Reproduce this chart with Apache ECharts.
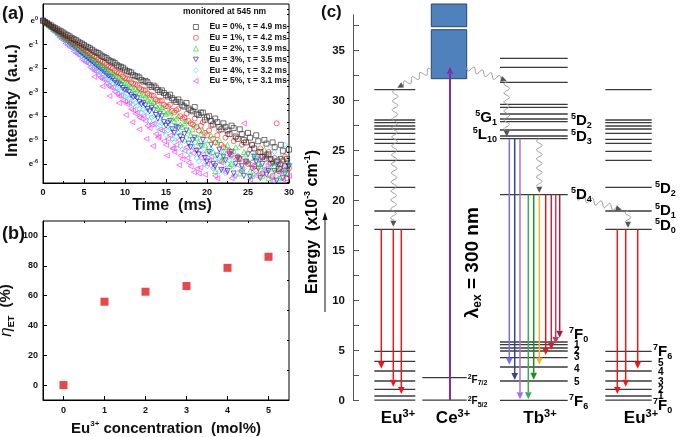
<!DOCTYPE html>
<html><head><meta charset="utf-8">
<script src="https://cdn.jsdelivr.net/npm/echarts@6/dist/echarts.min.js"></script>
<style>html,body{margin:0;padding:0;background:#fff}#c{width:685px;height:437px}</style>
</head><body><div id="c"></div><script>
const FONT = '"Liberation Sans", Arial, sans-serif';

// ---------- Panel (a): decay curves, ln(I) vs time (ms) ----------
const decayTime = [0,0.5,1,1.5,2,2.5,3,3.5,4,4.5,5,5.5,6,6.5,7,7.5,8,8.5,9,9.5,10,10.5,11,11.5,12,12.5,13,13.5,14,14.5,15,15.5,16,16.5,17,17.5,18,18.5,19,19.5,20,20.5,21,21.5,22,22.5,23,23.5,24,24.5,25,25.5,26,26.5,27,27.5,28,28.5,29,29.5,30];
const decayTimeB = [0.25,0.75,1.25,1.75,2.25,2.75,3.25,3.75,4.25,4.75,5.25,5.75,6.25,6.75,7.25,7.75,8.25,8.75,9.25,9.75,10.25,10.75,11.25,11.75,12.25,12.75,13.25,13.75,14.25,14.75,15.25,15.75,16.25,16.75,17.25,17.75,18.25,18.75,19.25,19.75,20.25,20.75,21.25,21.75,22.25,22.75,23.25,23.75,24.25,24.75,25.25,25.75,26.25,26.75,27.25,27.75,28.25,28.75,29.25,29.75];
const decayEu0 = [0,-0.10,-0.20,-0.31,-0.41,-0.50,-0.61,-0.72,-0.81,-0.92,-1.02,-1.12,-1.22,-1.33,-1.42,-1.53,-1.64,-1.72,-1.85,-1.93,-2.05,-2.13,-2.27,-2.33,-2.48,-2.52,-2.70,-2.72,-2.90,-2.92,-3.12,-3.10,-3.32,-3.30,-3.55,-3.45,-3.75,-3.62,-3.95,-3.85,-4.05,-4.20,-4.10,-4.45,-4.30,-4.60,-4.40,-4.85,-4.55,-5.00,-4.70,-5.20,-4.80,-5.50,-5.00,-5.60,-5.10,-5.90,-5.20,-6.10,-5.40];
const decayEu0B = [-0.05,-0.16,-0.26,-0.36,-0.45,-0.57,-0.66,-0.77,-0.87,-0.96,-1.08,-1.16,-1.29,-1.36,-1.49,-1.57,-1.70,-1.77,-1.91,-1.97,-2.12,-2.17,-2.33,-2.38,-2.55,-2.58,-2.78,-2.80,-2.98,-3.03,-3.18,-3.25,-3.40,-3.42,-3.60,-3.68,-3.80,-3.90,-3.85,-4.15,-4.00,-4.35,-4.25,-4.55,-4.45,-4.75,-4.50,-4.95,-4.75,-5.10,-4.90,-5.35,-5.05,-5.70,-5.15,-5.80,-5.30,-6.20,-5.45,-5.80];
const decayEu1 = [0,-0.12,-0.24,-0.36,-0.47,-0.60,-0.72,-0.82,-0.96,-1.06,-1.19,-1.30,-1.44,-1.53,-1.68,-1.77,-1.92,-2.00,-2.16,-2.23,-2.40,-2.46,-2.64,-2.70,-2.88,-2.92,-3.12,-3.15,-3.36,-3.35,-3.58,-3.52,-3.85,-3.70,-4.10,-3.90,-4.30,-4.10,-4.60,-4.25,-4.80,-4.40,-5.10,-4.60,-5.30,-4.75,-5.60,-4.90,-5.80,-5.10,-6.00,-5.20,-6.30,-5.35,-5.80,-5.50,-6.50,-4.30,-6.00,-5.70,-6.20];
const decayEu1B = [-0.06,-0.18,-0.30,-0.42,-0.54,-0.66,-0.77,-0.90,-1.01,-1.14,-1.25,-1.38,-1.48,-1.62,-1.72,-1.86,-1.96,-2.10,-2.19,-2.34,-2.42,-2.58,-2.65,-2.82,-2.90,-3.05,-3.12,-3.30,-3.35,-3.52,-3.60,-3.78,-3.75,-4.00,-4.05,-4.20,-4.35,-4.45,-4.40,-4.70,-4.60,-4.95,-4.80,-5.20,-4.90,-5.45,-5.05,-5.70,-5.20,-5.90,-5.40,-6.10,-5.50,-6.40,-5.60,-5.95,-5.75,-6.30,-5.85,-6.60];
const decayEu2 = [0,-0.13,-0.26,-0.38,-0.51,-0.65,-0.77,-0.90,-1.03,-1.15,-1.28,-1.41,-1.54,-1.66,-1.80,-1.92,-2.05,-2.18,-2.31,-2.42,-2.58,-2.66,-2.85,-2.92,-3.10,-3.18,-3.38,-3.40,-3.65,-3.62,-3.90,-3.80,-4.20,-4.00,-4.45,-4.20,-4.80,-4.35,-5.10,-4.60,-5.40,-4.80,-6.30,-5.00,-5.70,-5.20,-6.00,-5.30,-6.40,-5.50,-5.90,-6.50,-5.60,-6.10,-5.40,-6.60,-5.90,-6.20,-5.70,-6.40,-6.00];
const decayEu2B = [-0.06,-0.19,-0.32,-0.45,-0.58,-0.70,-0.83,-0.96,-1.09,-1.22,-1.34,-1.48,-1.60,-1.74,-1.86,-2.00,-2.12,-2.26,-2.36,-2.52,-2.62,-2.78,-2.86,-3.04,-3.12,-3.30,-3.36,-3.55,-3.60,-3.80,-3.85,-4.05,-4.10,-4.35,-4.30,-4.60,-4.55,-4.90,-4.75,-5.20,-5.00,-5.50,-5.10,-5.85,-5.30,-6.10,-5.45,-5.80,-6.20,-5.60,-6.30,-5.75,-6.00,-6.50,-5.65,-6.20,-5.95,-6.60,-5.80,-6.25];
const decayEu3 = [0,-0.14,-0.29,-0.43,-0.57,-0.72,-0.86,-1.00,-1.14,-1.29,-1.43,-1.57,-1.71,-1.86,-2.00,-2.14,-2.30,-2.42,-2.60,-2.70,-2.90,-2.98,-3.20,-3.25,-3.50,-3.55,-3.80,-3.75,-4.10,-4.00,-4.40,-4.20,-4.70,-4.50,-5.00,-4.60,-5.30,-4.90,-5.60,-5.00,-5.90,-5.20,-6.10,-5.40,-5.70,-6.30,-5.50,-6.00,-5.80,-6.50,-5.60,-6.20,-5.90,-6.60,-5.70,-6.30,-6.00,-6.70,-5.80,-6.40,-6.10];
const decayEu3B = [-0.07,-0.21,-0.36,-0.50,-0.64,-0.79,-0.93,-1.07,-1.22,-1.36,-1.50,-1.64,-1.79,-1.93,-2.07,-2.22,-2.36,-2.52,-2.64,-2.82,-2.92,-3.12,-3.18,-3.40,-3.45,-3.70,-3.65,-3.95,-3.90,-4.25,-4.30,-4.55,-4.45,-4.85,-4.75,-5.15,-5.00,-5.45,-5.25,-5.75,-5.50,-6.00,-5.65,-6.25,-5.85,-5.60,-6.40,-5.75,-6.10,-5.90,-6.55,-5.70,-6.20,-6.00,-6.45,-5.85,-6.30,-6.05,-6.60,-5.95];
const decayEu4 = [0,-0.16,-0.31,-0.47,-0.63,-0.78,-0.94,-1.10,-1.25,-1.41,-1.57,-1.72,-1.89,-2.03,-2.20,-2.34,-2.52,-2.64,-2.85,-2.95,-3.18,-3.25,-3.50,-3.55,-3.85,-3.80,-4.20,-4.00,-4.50,-4.30,-4.80,-4.50,-5.10,-4.70,-5.40,-4.90,-5.60,-5.10,-5.90,-5.20,-6.10,-5.40,-5.80,-6.30,-5.50,-6.00,-5.70,-6.50,-5.30,-6.20,-5.90,-5.50,-6.40,-5.80,-6.10,-5.60,-6.60,-5.90,-6.20,-5.20,-6.00];
const decayEu4B = [-0.08,-0.23,-0.39,-0.55,-0.70,-0.86,-1.02,-1.17,-1.33,-1.49,-1.64,-1.80,-1.96,-2.11,-2.27,-2.42,-2.58,-2.75,-2.90,-3.08,-3.20,-3.40,-3.45,-3.70,-3.72,-4.00,-4.05,-4.35,-4.25,-4.65,-4.60,-4.95,-4.85,-5.25,-5.05,-5.50,-5.25,-5.75,-5.45,-6.00,-5.60,-6.20,-5.75,-5.50,-6.40,-5.85,-6.10,-5.65,-6.30,-5.95,-6.55,-5.70,-6.00,-6.35,-5.80,-6.15,-5.50,-6.45,-5.90,-6.25];
const decayEu5 = [0,-0.18,-0.35,-0.50,-0.70,-0.82,-1.02,-1.15,-1.35,-1.48,-1.68,-1.80,-2.02,-2.12,-2.38,-2.45,-2.72,-2.80,-3.05,-3.15,-3.40,-3.45,-3.75,-3.85,-4.10,-4.20,-4.50,-4.30,-4.90,-4.60,-5.20,-4.80,-5.50,-5.00,-5.80,-5.30,-6.10,-5.40,-6.40,-5.60,-6.00,-5.70,-6.50,-5.90,-6.20,-5.50,-6.60,-5.80,-6.30,-4.30,-6.00,-5.90,-6.50,-5.70,-6.20,-6.00,-6.70,-5.80,-6.30,-6.10,-6.50];
const decayEu5B = [-0.10,-0.26,-0.45,-0.60,-0.78,-0.95,-1.10,-1.28,-1.42,-1.62,-1.75,-1.95,-2.10,-2.28,-2.45,-2.62,-2.80,-2.98,-3.15,-3.35,-3.50,-3.70,-3.90,-4.05,-4.00,-4.40,-4.35,-4.75,-4.55,-5.05,-4.95,-5.35,-5.20,-5.65,-5.45,-5.95,-5.55,-6.20,-5.75,-6.45,-5.85,-6.15,-6.60,-5.95,-6.35,-5.65,-6.50,-6.05,-6.25,-5.90,-6.65,-6.10,-5.80,-6.40,-6.20,-6.55,-6.00,-6.35,-6.65,-6.15];
// additional Eu 5% points scattered below the main band
const decayEu5CTime = [6.25,7.25,8.1,9.25,10.1,10.9,11.75,12.6,13.4,14.1,15.1,15.9,16.6,17.6,18.4,19.2];
const decayEu5C = [-2.35,-2.75,-3.15,-3.45,-3.95,-4.25,-4.55,-4.95,-5.25,-4.85,-5.65,-5.35,-6.05,-5.75,-6.35,-6.15];
const decayNames = ['Eu = 0%, \u03c4 = 4.9 ms','Eu = 1%, \u03c4 = 4.2 ms','Eu = 2%, \u03c4 = 3.9 ms','Eu = 3%, \u03c4 = 3.5 ms','Eu = 4%, \u03c4 = 3.2 ms','Eu = 5%, \u03c4 = 3.1 ms'];
const yTicksA = [0,-1,-2,-3,-4,-5,-6];

// ---------- Panel (b): energy-transfer efficiency ----------
const euConc = [0,1,2,3,4,5];
const etaET = [0,55.9,62.6,66.4,78.6,86.0];

// ---------- Panel (c): energy levels (10^3 cm^-1) ----------
const euUpper = [31.1,28.07,27.8,27.47,27.17,26.74,26.14,25.74,24.94,24.04,21.34,18.97,17.14];
const euLower = [4.94,3.94,2.97,1.97,1.14,0.47,0.05];
const ceLevels = [2.3,0.05];
const ceBand = [[32.2,37.1],[37.4,39.67]];
const tbUpper = [34.24,33.34,31.84,29.64,29.34,28.67,28.17,27.9,27.07,26.47,26.2,20.6];
const tbLower = [5.87,5.6,5.27,4.97,4.3,3.37,1.97,0.04];
const eu5D0 = 17.14, tb5D3 = 26.2, tb5D4 = 20.6;
const euEmitTo = [3.2,1.4,0.67];
const tb5D3To = [3.6,2.07,0.14];
const tb5D4To = [0.14,2.1,3.6,4.57,5.1,5.67,6.3];
const ceExcite = [0.05,33.4];
const nrEuL = [31.1,17.4], nrTbA = [31.9,26.4], nrTbB = [26.2,20.8], nrEuR = [19.0,17.3];
const etCeEu = [33.1,31.3], etCeTb = [33.3,32.0], etTbEu = [20.4,19.1];

// ---------- layout (panel c horizontal positions) ----------
const COL = {euL:[21.3,62.3], ce:[69.3,113.7], ceBox:[78.3,113.7], tb:[147,214.7], euR:[252.3,298.7]};
const X_EUL = [28.3,40.3,48.3], X_EUR = [264.3,272.7,284.7];
const X_TB3 = [156.3,161.7,167], X_TB4 = [175.3,180.7,186.3,192.7,198.3,202.7,206.7];
const C_TB3 = ['#7272EE','#36468A','#A670E2'];
const C_TB4 = ['#3DAA5A','#1E8C2A','#F2B630','#E01B1B','#C3243F','#B8405F','#A81D3E'];
const RED = '#E8191C', PURPLE = '#7E2FA8';

const levelData = [];
euUpper.concat(euLower).forEach(e => { levelData.push([COL.euL[0],COL.euL[1],e]); levelData.push([COL.euR[0],COL.euR[1],e]); });
ceLevels.forEach(e => levelData.push([COL.ce[0],COL.ce[1],e]));
tbUpper.concat(tbLower).forEach(e => levelData.push([COL.tb[0],COL.tb[1],e]));

const arrowData = [];
euEmitTo.forEach((e,i) => arrowData.push({value:[X_EUL[i],eu5D0,e], itemStyle:{color:RED}}));
euEmitTo.slice().reverse().forEach((e,i) => arrowData.push({value:[X_EUR[i],eu5D0,e], itemStyle:{color:RED}}));
tb5D3To.forEach((e,i) => arrowData.push({value:[X_TB3[i],tb5D3,e], itemStyle:{color:C_TB3[i]}}));
tb5D4To.forEach((e,i) => arrowData.push({value:[X_TB4[i],tb5D4,e], itemStyle:{color:C_TB4[i]}}));
arrowData.push({value:[97,ceExcite[0],ceExcite[1]], itemStyle:{color:PURPLE}, lw:2});

const waveData = [
  [78.3,etCeEu[0],44.3,etCeEu[1]],
  [113.7,etCeTb[0],153.7,etCeTb[1]],
  [42.3,nrEuL[0],40.3,nrEuL[1]],
  [153.7,nrTbA[0],153.7,nrTbA[1]],
  [186.3,nrTbB[0],186.3,nrTbB[1]],
  [223.7,etTbEu[0],268.7,etTbEu[1]],
  [275,nrEuR[0],275,nrEuR[1]]
];
const boxData = ceBand.map(b => [COL.ceBox[0],COL.ceBox[1],b[0],b[1]]);

const labelData = [
  [144,28.27,'{s|5}{b|G}{d|1}','right'],
  [144,26.57,'{s|5}{b|L}{d|10}','right'],
  [218,27.97,'{s|5}{b|D}{d|2}','left'],
  [218,26.4,'{s|5}{b|D}{d|3}','left'],
  [218,20.6,'{s|5}{b|D}{d|4}','left'],
  [216,6.57,'{s|7}{b|F}{d|0}','left'],
  [221,5.5,'{n|1}','left'],[221,4.9,'{n|2}','left'],[221,4.3,'{n|3}','left'],[221,3.14,'{n|4}','left'],[221,1.8,'{n|5}','left'],
  [216,-0.1,'{s|7}{b|F}{d|6}','left'],
  [302,21.17,'{s|5}{b|D}{d|2}','left'],
  [302,18.97,'{s|5}{b|D}{d|1}','left'],
  [302,17.5,'{s|5}{b|D}{d|0}','left'],
  [300,4.9,'{s|7}{b|F}{d|6}','left'],
  [305,3.74,'{n|5}','left'],[305,2.8,'{n|4}','left'],[305,1.8,'{n|3}','left'],[305,1.0,'{n|2}','left'],[305,0.4,'{n|1}','left'],
  [300,-0.5,'{s|7}{b|F}{d|0}','left'],
  [114.7,2.07,'{cs|2}{cb|F}{cd|7/2}','left'],
  [114.7,-0.1,'{cs|2}{cb|F}{cd|5/2}','left'],
  [45,-1.75,'{ion|Eu}{is|3+}','center'],
  [100,-1.75,'{ion|Ce}{is|3+}','center'],
  [187,-1.75,'{ion|Tb}{is|3+}','center'],
  [288,-1.75,'{ion|Eu}{is|3+}','center'],
  [120,13.8,'{lam|\u03bb}{ls|ex}{lam| = 300 nm}','center','rot']
];

const T = (o) => Object.assign({fontFamily:FONT, fontWeight:'bold', color:'#111'}, o);
const RICH = {
  b: T({fontSize:15, lineHeight:18}),
  s: T({fontSize:9, lineHeight:9, verticalAlign:'top'}),
  d: T({fontSize:9, lineHeight:9, verticalAlign:'bottom'}),
  n: T({fontSize:10, lineHeight:11}),
  cb: T({fontSize:10, lineHeight:13}),
  cs: T({fontSize:7, lineHeight:7, verticalAlign:'top'}),
  cd: T({fontSize:7, lineHeight:7, verticalAlign:'bottom'}),
  ion: T({fontSize:17, lineHeight:20}),
  is: T({fontSize:11, lineHeight:11, verticalAlign:'top'}),
  lam: T({fontSize:19, lineHeight:22}),
  ls: T({fontSize:12, lineHeight:12, verticalAlign:'bottom'})
};

function levelItem(params, api){
  const a = api.coord([api.value(0), api.value(2)]);
  const b = api.coord([api.value(1), api.value(2)]);
  return {type:'line', shape:{x1:a[0],y1:a[1],x2:b[0],y2:b[1]}, style:{stroke:'#3a3a3a', lineWidth:1.3}};
}
function boxItem(params, api){
  const a = api.coord([api.value(0), api.value(3)]);
  const b = api.coord([api.value(1), api.value(2)]);
  return {type:'rect', shape:{x:a[0],y:a[1],width:b[0]-a[0],height:b[1]-a[1]}, style:{fill:'#4F81BD', stroke:'#2A4468', lineWidth:1}};
}
function arrowItem(params, api){
  const a = api.coord([api.value(0), api.value(1)]);
  const b = api.coord([api.value(0), api.value(2)]);
  const col = api.visual('color');
  const dir = b[1] > a[1] ? 1 : -1;
  const hl = 7, hw = 3.3;
  const lw = arrowData[params.dataIndex].lw || 1.5;
  return {type:'group', children:[
    {type:'line', shape:{x1:a[0],y1:a[1],x2:b[0],y2:b[1]-dir*hl}, style:{stroke:col, lineWidth:lw}},
    {type:'polygon', shape:{points:[[b[0],b[1]],[b[0]-hw,b[1]-dir*hl],[b[0]+hw,b[1]-dir*hl]]}, style:{fill:col}}
  ]};
}
function waveItem(params, api){
  const a = api.coord([api.value(0), api.value(1)]);
  const b = api.coord([api.value(2), api.value(3)]);
  const dx = b[0]-a[0], dy = b[1]-a[1], L = Math.hypot(dx,dy);
  const ux = dx/L, uy = dy/L, nx = -uy, ny = ux;
  const hl = 6, hw = 3, Lw = L - hl, A = 2.8, wl = 9;
  const pts = [];
  for (let s = 0; s <= Lw; s += 0.6) {
    const o = A*Math.sin(2*Math.PI*s/wl);
    pts.push([a[0]+ux*s+nx*o, a[1]+uy*s+ny*o]);
  }
  const base = [a[0]+ux*Lw, a[1]+uy*Lw];
  return {type:'group', children:[
    {type:'polyline', shape:{points:pts}, style:{stroke:'#9a9a9a', lineWidth:1, fill:null}},
    {type:'polygon', shape:{points:[b,[base[0]+nx*hw,base[1]+ny*hw],[base[0]-nx*hw,base[1]-ny*hw]]}, style:{fill:'#555'}}
  ]};
}
function labelItem(params, api){
  const L = labelData[params.dataIndex];
  const p = api.coord([L[0], L[1]]);
  return {type:'text', x:p[0], y:p[1], rotation: L[4] === 'rot' ? Math.PI/2 : 0,
    style:{text:L[2], rich:RICH, align:L[3], verticalAlign:'middle'}};
}

const symbols = ['rect','circle','triangle','path://M0,0L10,0L5,9Z','diamond','path://M9,0L9,10L0,5Z'];
const colors = ['#222222','#FF2020','#22DD22','#1010CC','#22DDFF','#FF33FF'];
const setsA = [decayEu0,decayEu1,decayEu2,decayEu3,decayEu4,decayEu5];
const setsB = [decayEu0B,decayEu1B,decayEu2B,decayEu3B,decayEu4B,decayEu5B];
const scatterA = [];
for (let k = 5; k >= 0; k--) {
  let pts = decayTime.map((t,i) => [t, setsA[k][i]]).concat(decayTimeB.map((t,i) => [t, setsB[k][i]]));
  if (k === 5) pts = pts.concat(decayEu5CTime.map((t,i) => [t, decayEu5C[i]]));
  scatterA.push({
    type:'scatter', name:decayNames[k], xAxisIndex:0, yAxisIndex:0,
    symbol:symbols[k], symbolSize:5, clip:true,
    itemStyle:{color:'rgba(255,255,255,0)', borderColor:colors[k], borderWidth:0.8},
    data: pts, silent:true
  });
}

const axLbl = (fs) => ({fontFamily:FONT, fontWeight:'bold', fontSize:fs, color:'#111'});
const blackLine = {onZero:false, lineStyle:{color:'#000', width:1}};
const minorA = []; for (let v = -6.75; v < 0.7; v += 0.25) { if (Math.abs(v - Math.round(v)) > 0.01) minorA.push(v); }
const ticksC = []; for (let v = 0; v <= 37.5; v += 2.5) ticksC.push(v);

const option = {
  animation:false,
  backgroundColor:'#fff',
  grid:[
    {left:43, top:4, width:246, height:179, show:true, borderColor:'#000', borderWidth:1, outerBoundsMode:'none'},
    {left:43, top:221, width:246, height:179, show:true, borderColor:'#000', borderWidth:1, outerBoundsMode:'none'},
    {left:353, top:14.7, width:332, height:386, outerBoundsMode:'none'}
  ],
  legend:{
    left:188, top:17, orient:'vertical', itemWidth:5, itemHeight:5, itemGap:0.8, selectedMode:false,
    data:decayNames.map((n,k) => ({name:n, icon:symbols[k],
      itemStyle:{color:'rgba(255,255,255,0)', borderColor:colors[k], borderWidth:0.8}})),
    textStyle:{fontFamily:FONT, fontWeight:'bold', fontSize:8.5, color:'#111', lineHeight:10, padding:[0,0,0,6]}
  },
  xAxis:[
    {gridIndex:0, type:'value', min:0, max:30, interval:5,
     axisLine:blackLine, axisTick:{inside:true, length:4, lineStyle:{color:'#000'}},
     minorTick:{show:true, splitNumber:2, length:2, lineStyle:{color:'#000'}},
     splitLine:{show:false}, axisLabel:Object.assign({margin:5}, axLbl(9)),
     name:'Time  (ms)', nameLocation:'middle', nameGap:15,
     nameTextStyle:{fontFamily:FONT, fontWeight:'bold', fontSize:16, color:'#111', padding:[0,0,0,12]}},
    {gridIndex:1, type:'value', min:-0.5, max:5.5,
     axisLine:blackLine, axisTick:{inside:true, length:4, customValues:euConc, lineStyle:{color:'#000'}},
     splitLine:{show:false}, axisLabel:Object.assign({margin:6, customValues:euConc}, axLbl(9)),
     name:'{b|Eu}{s|3+}{b| concentration  (mol%)}', nameLocation:'middle', nameGap:20,
     nameTextStyle:{rich:{b:T({fontSize:15, lineHeight:18}), s:T({fontSize:8, lineHeight:8, verticalAlign:'top'})}}},
    {gridIndex:1, type:'value', min:-0.5, max:5.5, axisLine:{show:false, onZero:false}, axisLabel:{show:false}, splitLine:{show:false},
     axisTick:{inside:true, length:2, customValues:[0.5,1.5,2.5,3.5,4.5], lineStyle:{color:'#000'}}},
    {gridIndex:2, type:'value', min:0, max:332, show:false}
  ],
  yAxis:[
    {gridIndex:0, type:'value', min:-6.8, max:0.7,
     axisLine:blackLine, axisTick:{inside:true, length:4, customValues:yTicksA, lineStyle:{color:'#000'}},
     splitLine:{show:false},
     axisLabel:{margin:5, customValues:yTicksA, formatter:v => '{e|e}{s|' + Math.round(v) + '}',
       rich:{e:T({fontSize:8, lineHeight:10}), s:T({fontSize:5.5, lineHeight:6, verticalAlign:'top'})}},
     name:'Intensity  (a.u.)', nameLocation:'middle', nameGap:22, nameRotate:90,
     nameTextStyle:{fontFamily:FONT, fontWeight:'bold', fontSize:16, color:'#111', padding:[0,14,0,0]}},
    {gridIndex:0, type:'value', min:-6.8, max:0.7, axisLine:{show:false, onZero:false}, axisLabel:{show:false}, splitLine:{show:false},
     axisTick:{inside:true, length:2, customValues:minorA, lineStyle:{color:'#000'}}},
    {gridIndex:1, type:'value', min:-10, max:110,
     axisLine:blackLine, axisTick:{inside:true, length:4, customValues:[0,20,40,60,80,100], lineStyle:{color:'#000'}},
     splitLine:{show:false}, axisLabel:Object.assign({margin:5, customValues:[0,20,40,60,80,100]}, axLbl(9)),
     name:'{i|\u03b7}{d|ET}{b|  (%)}', nameLocation:'middle', nameGap:27, nameRotate:90,
     nameTextStyle:{rich:{i:T({fontSize:17, lineHeight:20, fontStyle:'italic', fontWeight:'normal'}), d:T({fontSize:9, lineHeight:9, verticalAlign:'bottom'}), b:T({fontSize:15, lineHeight:20})}}},
    {gridIndex:1, type:'value', min:-10, max:110, axisLine:{show:false, onZero:false}, axisLabel:{show:false}, splitLine:{show:false},
     axisTick:{inside:true, length:2, customValues:[10,30,50,70,90], lineStyle:{color:'#000'}}},
    {gridIndex:2, type:'value', min:0, max:38.6,
     axisLine:{onZero:false, lineStyle:{color:'#555', width:1}},
     axisTick:{inside:true, length:6, customValues:ticksC, lineStyle:{color:'#555'}},
     splitLine:{show:false}, axisLabel:Object.assign({margin:8, customValues:[0,5,10,15,20,25,30,35]}, axLbl(11.5))}
  ],
  series: scatterA.concat([
    {type:'scatter', xAxisIndex:1, yAxisIndex:2, symbol:'rect', symbolSize:8, itemStyle:{color:'#E51A1A'},
     data: euConc.map((c,i) => [c, etaET[i]]), silent:true},
    {type:'custom', xAxisIndex:3, yAxisIndex:4, clip:false, silent:true, renderItem:boxItem, encode:{x:[0,1], y:[2,3]}, data:boxData},
    {type:'custom', xAxisIndex:3, yAxisIndex:4, clip:false, silent:true, renderItem:levelItem, encode:{x:[0,1], y:2}, data:levelData},
    {type:'custom', xAxisIndex:3, yAxisIndex:4, clip:false, silent:true, renderItem:waveItem, encode:{x:[0,2], y:[1,3]}, data:waveData},
    {type:'custom', xAxisIndex:3, yAxisIndex:4, clip:false, silent:true, renderItem:arrowItem, encode:{x:0, y:[1,2]}, data:arrowData},
    {type:'custom', xAxisIndex:3, yAxisIndex:4, clip:false, silent:true, renderItem:labelItem, encode:{x:0, y:1},
     data:labelData.map(l => [l[0], l[1]])}
  ]),
  graphic:[
    {type:'text', left:2, top:5, style:{text:'(a)', font:'bold 18px ' + FONT, fill:'#111'}},
    {type:'text', left:2, top:225, style:{text:'(b)', font:'bold 18px ' + FONT, fill:'#111'}},
    {type:'text', left:321, top:4, style:{text:'(c)', font:'bold 17px ' + FONT, fill:'#111'}},
    {type:'text', left:183, top:7, style:{text:'monitored at 545 nm', font:'bold 8.5px ' + FONT, fill:'#111'}},
    {type:'text', x:313, y:222, rotation:Math.PI/2,
     style:{text:'{b|Energy  (x10}{s|-3}{b| cm}{s|-1}{b|)}', align:'center', verticalAlign:'middle',
       rich:{b:T({fontSize:16, lineHeight:19}), s:T({fontSize:9, lineHeight:9, verticalAlign:'top'})}}},
    {type:'line', shape:{x1:325, y1:312, x2:325, y2:219}, style:{stroke:'#111', lineWidth:1}},
    {type:'polygon', shape:{points:[[325,212],[322.5,220],[327.5,220]]}, style:{fill:'#111'}}
  ]
};
const chart = echarts.init(document.getElementById('c'));
chart.setOption(option);
</script></body></html>
